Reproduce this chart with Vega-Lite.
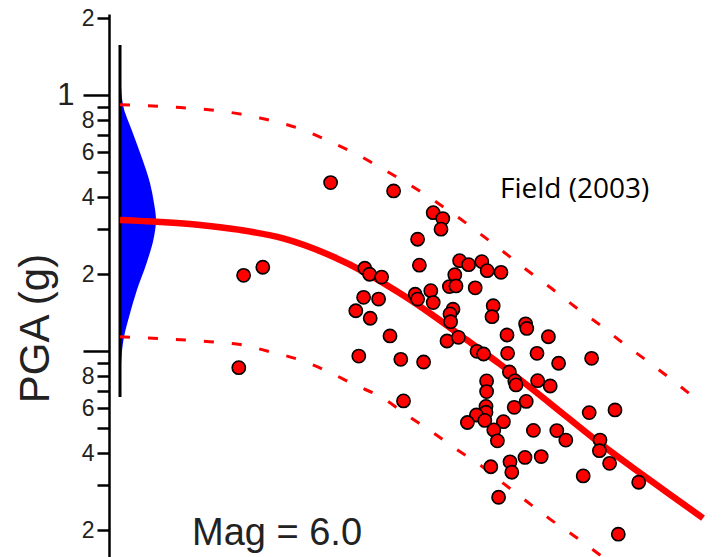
{
  "$schema": "https://vega.github.io/schema/vega-lite/v6.json",
  "width": 600,
  "height": 543,
  "autosize": {"type": "none"},
  "padding": {"left": 120, "top": 14, "right": 3, "bottom": 0},
  "background": "white",
  "config": {"view": {"stroke": null}},
  "datasets": {
    "density": [
      {"pga": 1.572, "density": 0.0},
      {"pga": 1.148, "density": 0.02},
      {"pga": 0.9166, "density": 0.083},
      {"pga": 0.732, "density": 0.325},
      {"pga": 0.574, "density": 0.6},
      {"pga": 0.4544, "density": 0.833},
      {"pga": 0.3797, "density": 0.944},
      {"pga": 0.3258, "density": 1.0},
      {"pga": 0.2796, "density": 0.944},
      {"pga": 0.2213, "density": 0.74},
      {"pga": 0.1736, "density": 0.47},
      {"pga": 0.1361, "density": 0.25},
      {"pga": 0.1137, "density": 0.11},
      {"pga": 0.09, "density": 0.03},
      {"pga": 0.0663, "density": 0.0}
    ],
    "stem": [{"u": 0, "pga": 1.572, "pga_low": 0.0663}],
    "curves": [
      {"curve": "median", "u": 0, "pga": 0.326},
      {"curve": "median", "u": 6.67, "pga": 0.32},
      {"curve": "median", "u": 13.33, "pga": 0.3115},
      {"curve": "median", "u": 20, "pga": 0.298},
      {"curve": "median", "u": 27.2, "pga": 0.276},
      {"curve": "median", "u": 35.55, "pga": 0.234},
      {"curve": "median", "u": 41.1, "pga": 0.2017},
      {"curve": "median", "u": 46.67, "pga": 0.1685},
      {"curve": "median", "u": 52.2, "pga": 0.138},
      {"curve": "median", "u": 57.8, "pga": 0.1107},
      {"curve": "median", "u": 63.3, "pga": 0.0892},
      {"curve": "median", "u": 68.9, "pga": 0.0706},
      {"curve": "median", "u": 74.45, "pga": 0.0555},
      {"curve": "median", "u": 80, "pga": 0.0437},
      {"curve": "median", "u": 85.55, "pga": 0.035},
      {"curve": "median", "u": 91.1, "pga": 0.0282},
      {"curve": "median", "u": 97.17, "pga": 0.0223},
      {"curve": "upper", "u": 0, "pga": 0.919},
      {"curve": "upper", "u": 8.33, "pga": 0.9},
      {"curve": "upper", "u": 16.33, "pga": 0.871},
      {"curve": "upper", "u": 23.33, "pga": 0.815},
      {"curve": "upper", "u": 30.55, "pga": 0.732},
      {"curve": "upper", "u": 35, "pga": 0.659},
      {"curve": "upper", "u": 39.17, "pga": 0.593},
      {"curve": "upper", "u": 43.6, "pga": 0.5186},
      {"curve": "upper", "u": 47.8, "pga": 0.4544},
      {"curve": "upper", "u": 52.2, "pga": 0.39},
      {"curve": "upper", "u": 55.83, "pga": 0.3406},
      {"curve": "upper", "u": 63.9, "pga": 0.2449},
      {"curve": "upper", "u": 67.8, "pga": 0.2078},
      {"curve": "upper", "u": 71.67, "pga": 0.1778},
      {"curve": "upper", "u": 75.83, "pga": 0.1493},
      {"curve": "upper", "u": 80, "pga": 0.1267},
      {"curve": "upper", "u": 83.9, "pga": 0.1074},
      {"curve": "upper", "u": 87.8, "pga": 0.0919},
      {"curve": "upper", "u": 91.67, "pga": 0.0784},
      {"curve": "upper", "u": 95.55, "pga": 0.0665},
      {"curve": "upper", "u": 97.17, "pga": 0.0622},
      {"curve": "lower", "u": 0, "pga": 0.114},
      {"curve": "lower", "u": 7.5, "pga": 0.1117},
      {"curve": "lower", "u": 15, "pga": 0.109},
      {"curve": "lower", "u": 20.5, "pga": 0.1058},
      {"curve": "lower", "u": 25, "pga": 0.0996},
      {"curve": "lower", "u": 30, "pga": 0.0925},
      {"curve": "lower", "u": 34.72, "pga": 0.0832},
      {"curve": "lower", "u": 39.17, "pga": 0.0739},
      {"curve": "lower", "u": 43.6, "pga": 0.0661},
      {"curve": "lower", "u": 47.8, "pga": 0.0564},
      {"curve": "lower", "u": 51.95, "pga": 0.0485},
      {"curve": "lower", "u": 56.1, "pga": 0.0414},
      {"curve": "lower", "u": 60, "pga": 0.036},
      {"curve": "lower", "u": 63.9, "pga": 0.0305},
      {"curve": "lower", "u": 67.8, "pga": 0.0259},
      {"curve": "lower", "u": 71.67, "pga": 0.0221},
      {"curve": "lower", "u": 75.83, "pga": 0.0189},
      {"curve": "lower", "u": 80, "pga": 0.016},
      {"curve": "lower", "u": 81.67, "pga": 0.0149}
    ],
    "records": [
      {"u": 35.1, "pga": 0.456}, {"u": 45.6, "pga": 0.423}, {"u": 52.2, "pga": 0.348},
      {"u": 53.8, "pga": 0.33}, {"u": 53.5, "pga": 0.3}, {"u": 49.6, "pga": 0.274},
      {"u": 49.9, "pga": 0.217}, {"u": 20.6, "pga": 0.198}, {"u": 23.8, "pga": 0.213},
      {"u": 40.8, "pga": 0.211}, {"u": 41.6, "pga": 0.2}, {"u": 43.6, "pga": 0.195},
      {"u": 56.6, "pga": 0.226}, {"u": 58.1, "pga": 0.218}, {"u": 60.3, "pga": 0.224},
      {"u": 61.2, "pga": 0.2065}, {"u": 63.5, "pga": 0.2035}, {"u": 55.8, "pga": 0.199},
      {"u": 54.9, "pga": 0.179}, {"u": 56.0, "pga": 0.18}, {"u": 59.2, "pga": 0.177},
      {"u": 49.2, "pga": 0.167}, {"u": 49.6, "pga": 0.16}, {"u": 51.8, "pga": 0.1725},
      {"u": 52.2, "pga": 0.155}, {"u": 40.6, "pga": 0.1625}, {"u": 43.1, "pga": 0.16},
      {"u": 39.3, "pga": 0.144}, {"u": 41.7, "pga": 0.1346}, {"u": 55.5, "pga": 0.146},
      {"u": 55.0, "pga": 0.14}, {"u": 55.1, "pga": 0.1305}, {"u": 62.2, "pga": 0.1507},
      {"u": 62.0, "pga": 0.1365}, {"u": 67.6, "pga": 0.128}, {"u": 67.8, "pga": 0.1228},
      {"u": 64.5, "pga": 0.1158}, {"u": 71.4, "pga": 0.114}, {"u": 45.0, "pga": 0.1148},
      {"u": 54.5, "pga": 0.1097}, {"u": 56.4, "pga": 0.1134}, {"u": 59.5, "pga": 0.1},
      {"u": 60.6, "pga": 0.0976}, {"u": 64.6, "pga": 0.0982}, {"u": 69.5, "pga": 0.0982},
      {"u": 73.1, "pga": 0.0898}, {"u": 78.6, "pga": 0.0939}, {"u": 39.8, "pga": 0.0958},
      {"u": 46.8, "pga": 0.093}, {"u": 50.6, "pga": 0.0908}, {"u": 19.8, "pga": 0.0863},
      {"u": 64.9, "pga": 0.083}, {"u": 65.8, "pga": 0.0766}, {"u": 66.0, "pga": 0.0739},
      {"u": 69.6, "pga": 0.0768}, {"u": 71.7, "pga": 0.0732}, {"u": 61.1, "pga": 0.0766},
      {"u": 61.1, "pga": 0.0696}, {"u": 47.25, "pga": 0.064}, {"u": 67.7, "pga": 0.0637},
      {"u": 65.7, "pga": 0.0604}, {"u": 61.0, "pga": 0.0609}, {"u": 61.0, "pga": 0.0578},
      {"u": 59.4, "pga": 0.0564}, {"u": 57.9, "pga": 0.0527}, {"u": 60.8, "pga": 0.0537},
      {"u": 63.9, "pga": 0.0531}, {"u": 62.3, "pga": 0.0493}, {"u": 62.9, "pga": 0.0447},
      {"u": 68.9, "pga": 0.0491}, {"u": 72.8, "pga": 0.049}, {"u": 74.3, "pga": 0.045},
      {"u": 78.2, "pga": 0.0576}, {"u": 82.5, "pga": 0.059}, {"u": 80.0, "pga": 0.045},
      {"u": 79.9, "pga": 0.0409}, {"u": 81.6, "pga": 0.0365}, {"u": 61.8, "pga": 0.0354},
      {"u": 65.0, "pga": 0.037}, {"u": 65.3, "pga": 0.0337}, {"u": 67.5, "pga": 0.0385},
      {"u": 70.2, "pga": 0.0388}, {"u": 77.2, "pga": 0.0326}, {"u": 86.45, "pga": 0.0308},
      {"u": 63.1, "pga": 0.0269}, {"u": 83.05, "pga": 0.0193}
    ],
    "labels": [
      {"kind": "mag", "text": "Mag = 6.0", "u": 12, "pga": 0.01751},
      {"kind": "src", "text": "Field (2003)", "u": 63.33, "pga": 0.396}
    ]
  },
  "encoding": {
    "x": {"field": "u", "type": "quantitative", "scale": {"domain": [0, 100], "nice": false, "zero": false}, "axis": null},
    "y": {
      "field": "pga",
      "type": "quantitative",
      "scale": {"type": "log", "domain": [0.01572, 2.0776], "nice": false},
      "axis": {
        "title": "PGA (g)",
        "orient": "left",
        "offset": 11,
        "values": [2, 1, 0.9, 0.8, 0.7, 0.6, 0.5, 0.4, 0.3, 0.2, 0.1, 0.09, 0.08, 0.07, 0.06, 0.05, 0.04, 0.03, 0.02],
        "labelExpr": "datum.value == 1 ? '1' : (datum.value == 2 || datum.value == 0.2 || datum.value == 0.02) ? '2' : (datum.value == 0.8 || datum.value == 0.08) ? '8' : (datum.value == 0.6 || datum.value == 0.06) ? '6' : (datum.value == 0.4 || datum.value == 0.04) ? '4' : ''",
        "grid": false,
        "domainColor": "#000000",
        "domainWidth": 2.5,
        "tickColor": "#000000",
        "tickWidth": 2.5,
        "tickSize": {"condition": {"test": "datum.value == 1 || datum.value == 0.1", "value": 26}, "value": 12},
        "labelFont": "Liberation Sans",
        "labelFontSize": {"condition": {"test": "datum.value == 1", "value": 31}, "value": 23},
        "labelPadding": {"condition": {"test": "datum.value == 1", "value": 9}, "value": 3},
        "labelColor": "#222222",
        "labelBaseline": "middle",
        "labelFlush": false,
        "labelOverlap": false,
        "labelBound": false,
        "titleFont": "Liberation Sans",
        "titleFontSize": 42,
        "titleFontWeight": "normal",
        "titleColor": "#222222",
        "titleAngle": 270,
        "titleAlign": "center",
        "titleBaseline": "alphabetic",
        "titleX": -61,
        "titleY": 314
      }
    }
  },
  "layer": [
    {
      "data": {"name": "density"},
      "mark": {"type": "area", "orient": "horizontal", "color": "#0000ff", "interpolate": "monotone"},
      "encoding": {
        "x": {"field": "density", "type": "quantitative", "scale": {"domain": [0, 16.667], "nice": false, "zero": true}, "axis": null}
      }
    },
    {
      "data": {"name": "stem"},
      "mark": {"type": "rule", "color": "#000000", "strokeWidth": 3},
      "encoding": {
        "y2": {"field": "pga_low"}
      }
    },
    {
      "data": {"name": "curves"},
      "transform": [{"filter": "datum.curve != 'median'"}],
      "mark": {"type": "line", "color": "#ff0000", "strokeWidth": 3, "strokeDash": [10, 18], "clip": true, "interpolate": "monotone"},
      "encoding": {
        "detail": {"field": "curve", "type": "nominal"},
        "order": {"field": "u", "type": "quantitative"}
      }
    },
    {
      "data": {"name": "curves"},
      "transform": [{"filter": "datum.curve == 'median'"}],
      "mark": {"type": "line", "color": "#ff0000", "strokeWidth": 6.5, "clip": true, "interpolate": "monotone"},
      "encoding": {
        "order": {"field": "u", "type": "quantitative"}
      }
    },
    {
      "data": {"name": "records"},
      "mark": {"type": "point", "shape": "circle", "filled": true, "fill": "#ff0000", "stroke": "#000000", "strokeWidth": 1.6, "size": 175, "opacity": 1}
    },
    {
      "data": {"name": "labels"},
      "transform": [{"filter": "datum.kind == 'mag'"}],
      "mark": {"type": "text", "align": "left", "baseline": "alphabetic", "font": "Liberation Sans", "fontSize": 38, "color": "#222222"},
      "encoding": {"text": {"field": "text"}}
    },
    {
      "data": {"name": "labels"},
      "transform": [{"filter": "datum.kind == 'src'"}],
      "mark": {"type": "text", "align": "left", "baseline": "alphabetic", "font": "Open Sans", "fontSize": 28, "color": "#000000"},
      "encoding": {"text": {"field": "text"}}
    }
  ],
  "resolve": {"scale": {"x": "independent"}}
}
